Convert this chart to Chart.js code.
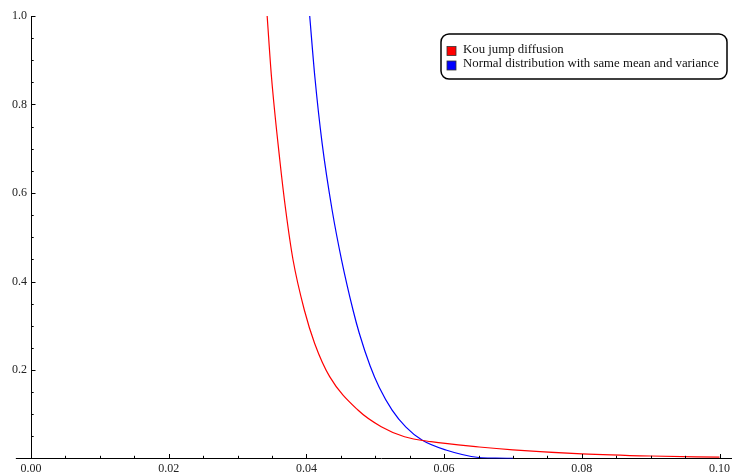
<!DOCTYPE html>
<html>
<head>
<meta charset="utf-8">
<script src="https://cdn.jsdelivr.net/npm/chart.js@4.4.1/dist/chart.umd.min.js"></script>
<style>
	html, body { margin: 0; padding: 0; background: #fff; }
	#wrap { width: 733px; height: 476px; }
</style>
</head>
<body>
<div id="wrap"><canvas id="chart"></canvas></div>
<script>
const seriesNames = [ 'Kou jump diffusion', 'Normal distribution with same mean and variance' ];

const kouX = [ 0.0343, 0.03493, 0.03614, 0.0370, 0.03807, 0.03971, 0.0412, 0.04338,
		0.04748, 0.05087, 0.05425, 0.05809, 0.0651, 0.0700, 0.0800, 0.0900, 0.1000 ];
const kouY = [ 1.0, 0.862, 0.674, 0.561, 0.448, 0.335, 0.260, 0.185,
		0.1095, 0.0718, 0.0492, 0.038, 0.026, 0.0195, 0.0105, 0.0056, 0.003 ];

const normalX = [ 0.04048, 0.04123, 0.04229, 0.04374, 0.04512, 0.04678, 0.04768, 0.04926,
		0.05057, 0.05245, 0.05446, 0.05678, 0.06026, 0.06504, 0.0675, 0.0700 ];
const normalY = [ 1.0, 0.862, 0.7115, 0.561, 0.448, 0.335, 0.283, 0.209,
		0.161, 0.1095, 0.071, 0.0418, 0.0192, 0.0023, 0.0009, 0.0003 ];

const xTicks = [ 0.00, 0.02, 0.04, 0.06, 0.08, 0.10 ];
const xMinorTicks = [ 0.005, 0.01, 0.015, 0.025, 0.03, 0.035, 0.045, 0.05, 0.055,
		0.065, 0.07, 0.075, 0.085, 0.09, 0.095 ];
const yTicks = [ 0.2, 0.4, 0.6, 0.8, 1.0 ];
const yMinorTicks = [ 0.05, 0.1, 0.15, 0.25, 0.3, 0.35, 0.45, 0.5, 0.55,
		0.65, 0.7, 0.75, 0.85, 0.9, 0.95 ];
const seriesColors = [ '#ff0000', '#0000ff' ];

function toPoints(xs, ys) {
	return xs.map((x, i) => ({ x: x, y: ys[i] }));
}

// Mathematica style axes: ticks pointing inward, x axis running a bit left of 0
const axisPlugin = {
	id : 'axisPlugin',
	afterDraw(chart) {
		const ctx = chart.ctx;
		const xs = chart.scales.x;
		const ys = chart.scales.y;
		const x0 = xs.getPixelForValue(0);
		const y0 = ys.getPixelForValue(0);
		ctx.save();
		ctx.strokeStyle = '#000';
		ctx.lineWidth = 1;
		ctx.beginPath();
		ctx.moveTo(xs.getPixelForValue(-0.0022), y0);
		ctx.lineTo(x0, y0);
		xTicks.forEach(v => {
			let p = Math.round(xs.getPixelForValue(v)) + 0.5;
			ctx.moveTo(p, y0);
			ctx.lineTo(p, y0 - 4.5);
		});
		xMinorTicks.forEach(v => {
			let p = Math.round(xs.getPixelForValue(v)) + 0.5;
			ctx.moveTo(p, y0);
			ctx.lineTo(p, y0 - 2.7);
		});
		yTicks.forEach(v => {
			let p = Math.round(ys.getPixelForValue(v)) + 0.5;
			ctx.moveTo(x0, p);
			ctx.lineTo(x0 + 4.5, p);
		});
		yMinorTicks.forEach(v => {
			let p = Math.round(ys.getPixelForValue(v)) + 0.5;
			ctx.moveTo(x0, p);
			ctx.lineTo(x0 + 2.7, p);
		});
		ctx.stroke();
		ctx.restore();
	}
};

const legendPlugin = {
	id : 'boxLegend',
	afterDraw(chart) {
		const ctx = chart.ctx;
		const left = 441, top = 34, w = 286, h = 45, r = 8;
		ctx.save();
		ctx.fillStyle = '#fff';
		ctx.strokeStyle = '#000';
		ctx.lineWidth = 1.5;
		ctx.beginPath();
		ctx.roundRect(left, top, w, h, r);
		ctx.fill();
		ctx.stroke();
		ctx.font = '12.8px "Liberation Serif"';
		ctx.textBaseline = 'middle';
		chart.data.datasets.forEach((ds, i) => {
			let cy = 51 + i * 14.5;
			ctx.fillStyle = ds.borderColor;
			ctx.fillRect(447, cy - 4.5, 9, 9);
			ctx.lineWidth = 0.8;
			ctx.strokeStyle = '#333';
			ctx.strokeRect(447, cy - 4.5, 9, 9);
			ctx.fillStyle = '#111';
			ctx.fillText(ds.label, 463, cy - 1.5);
		});
		ctx.restore();
	}
};

let ctx = document.getElementById('chart').getContext('2d');
let lineChart = new Chart(ctx, {
	type : 'line',
	data : {
		datasets : [ {
			label : seriesNames[0],
			data : toPoints(kouX, kouY),
			borderColor : seriesColors[0],
			backgroundColor : seriesColors[0],
			borderWidth : 1.2,
			pointRadius : 0,
			cubicInterpolationMode : 'monotone',
			fill : false
		}, {
			label : seriesNames[1],
			data : toPoints(normalX, normalY),
			borderColor : seriesColors[1],
			backgroundColor : seriesColors[1],
			borderWidth : 1.2,
			pointRadius : 0,
			cubicInterpolationMode : 'monotone',
			fill : false
		} ]
	},
	options : {
		responsive : true,
		maintainAspectRatio : false,
		animation : false,
		events : [],
		layout : { padding : { top : 16, right : 0, left : 0, bottom : 0 } },
		plugins : {
			legend : { display : false },
			tooltip : { enabled : false }
		},
		scales : {
			x : {
				type : 'linear',
				min : 0,
				max : 0.10174,
				afterBuildTicks : s => { s.ticks = xTicks.map(v => ({ value : v })); },
				afterFit : s => { s.height = 17.5; },
				grid : { display : true, drawOnChartArea : false, drawTicks : false },
				border : { display : true, color : '#000', width : 1 },
				ticks : {
					autoSkip : false,
					maxRotation : 0,
					padding : 3,
					color : '#222',
					font : { family : 'Liberation Serif', size : 12 },
					callback : v => v.toFixed(2)
				}
			},
			y : {
				type : 'linear',
				min : 0,
				max : 1,
				afterBuildTicks : s => { s.ticks = yTicks.map(v => ({ value : v })); },
				afterFit : s => { s.width = 31; },
				grid : { display : true, drawOnChartArea : false, drawTicks : false },
				border : { display : true, color : '#000', width : 1 },
				ticks : {
					padding : 4,
					color : '#222',
					font : { family : 'Liberation Serif', size : 12 },
					callback : v => v.toFixed(1)
				}
			}
		}
	},
	plugins : [ axisPlugin, legendPlugin ]
});
</script>
</body>
</html>
